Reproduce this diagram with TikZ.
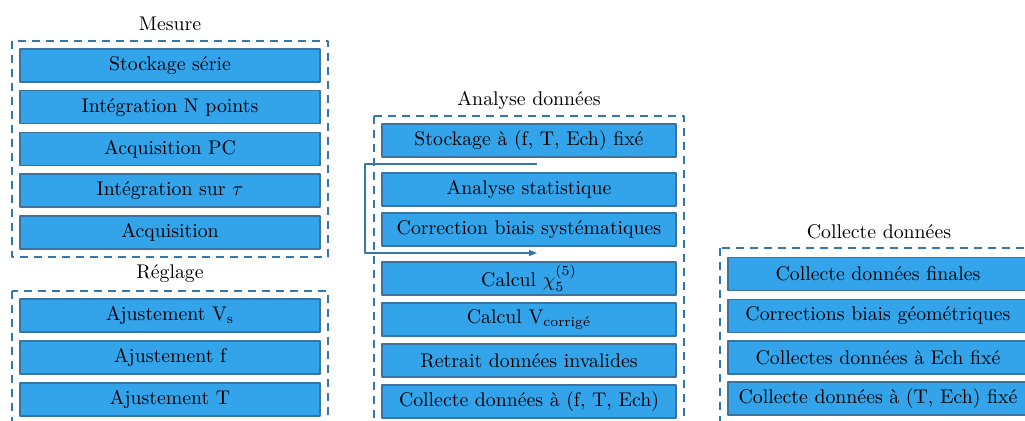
\documentclass[tikz,border=0pt]{standalone}
\usetikzlibrary{arrows.meta}
\definecolor{boxfill}{HTML}{33A3EA}
\definecolor{boxline}{HTML}{3A72A0}
\definecolor{frameline}{HTML}{3477AD}
\newcommand{\figfontsize}{\fontsize{9.9}{11.5}\selectfont}
\tikzset{
  every picture/.style = {font=\figfontsize, line join=round},
  stepbox/.style       = {draw=boxline, fill=boxfill, line width=0.75pt,
                          minimum width=150pt, minimum height=16.5pt, inner sep=0pt},
  narrowbox/.style     = {stepbox, minimum width=147pt},
  frame/.style         = {draw=frameline, line width=0.9pt, dash pattern=on 4pt off 3pt},
  loopline/.style      = {draw=frameline, line width=0.6pt, -{Triangle[length=4pt, width=3pt]}},
}

\begin{document}
\begin{tikzpicture}[x=0.5pt, y=-0.5pt]
  \useasboundingbox (0,0) rectangle (1025,421);
  \clip (0,0) rectangle (1025,421);

  % ---------- Mesure -----------------------------------------------------------
  \node (mesure) at (170,24) {Mesure};
  \draw[frame] (12,41) rectangle (328,257);
  \foreach \txt [count=\i] in {Stockage série, Intégration N points, Acquisition PC,
                               Intégration sur $\tau$, Acquisition}
    \node[stepbox] (me\i) at (170,{65.5+41.75*(\i-1)}) {\txt};

  % ---------- Réglage ----------------------------------------------------------
  \node (reglage) at (170,274) {Réglage};
  \draw[frame] (12,291) rectangle (328,440);
  \node[stepbox] (re1) at (170,315.5) {Ajustement V\textsubscript{s}};
  \node[stepbox] (re2) at (170,357.5) {Ajustement f};
  \node[stepbox] (re3) at (170,399.5) {Ajustement T};

  % ---------- Analyse données --------------------------------------------------
  \node (analyse) at (529,100) {Analyse données};
  \draw[frame] (374,116) rectangle (684,440);
  \node[narrowbox] (an1) at (529,140.5) {Stockage à (f, T, Ech) fixé};
  \node[narrowbox] (an2) at (529,189.5) {Analyse statistique};
  \node[narrowbox] (an3) at (529,229.5) {Correction biais systématiques};
  \node[narrowbox] (an4) at (529,278.5) {Calcul $\chi_5^{(5)}$};
  \node[narrowbox] (an5) at (529,319.5) {Calcul V\textsubscript{corrigé}};
  \node[narrowbox] (an6) at (529,360.5) {Retrait données invalides};
  \node[narrowbox] (an7) at (529,401.5) {Collecte données à (f, T, Ech)};

  % loop round the statistics and the bias correction
  \coordinate (loopstart) at (537,164);
  \coordinate (loopleft)  at (365,164);
  \coordinate (loopend)   at (537,253);
  \draw[loopline] (loopstart) -- (loopleft) |- (loopend);

  % ---------- Collecte données -------------------------------------------------
  \node (collecte) at (879,232) {Collecte données};
  \draw[frame] (720,248) rectangle (1037,440);
  \node[stepbox] (co1) at (878,274)   {Collecte données finales};
  \node[stepbox] (co2) at (878,316)   {Corrections biais géométriques};
  \node[stepbox] (co3) at (878,357.5) {Collectes données à Ech fixé};
  \node[stepbox] (co4) at (878,398.5) {Collecte données à (T, Ech) fixé};
\end{tikzpicture}
\end{document}
